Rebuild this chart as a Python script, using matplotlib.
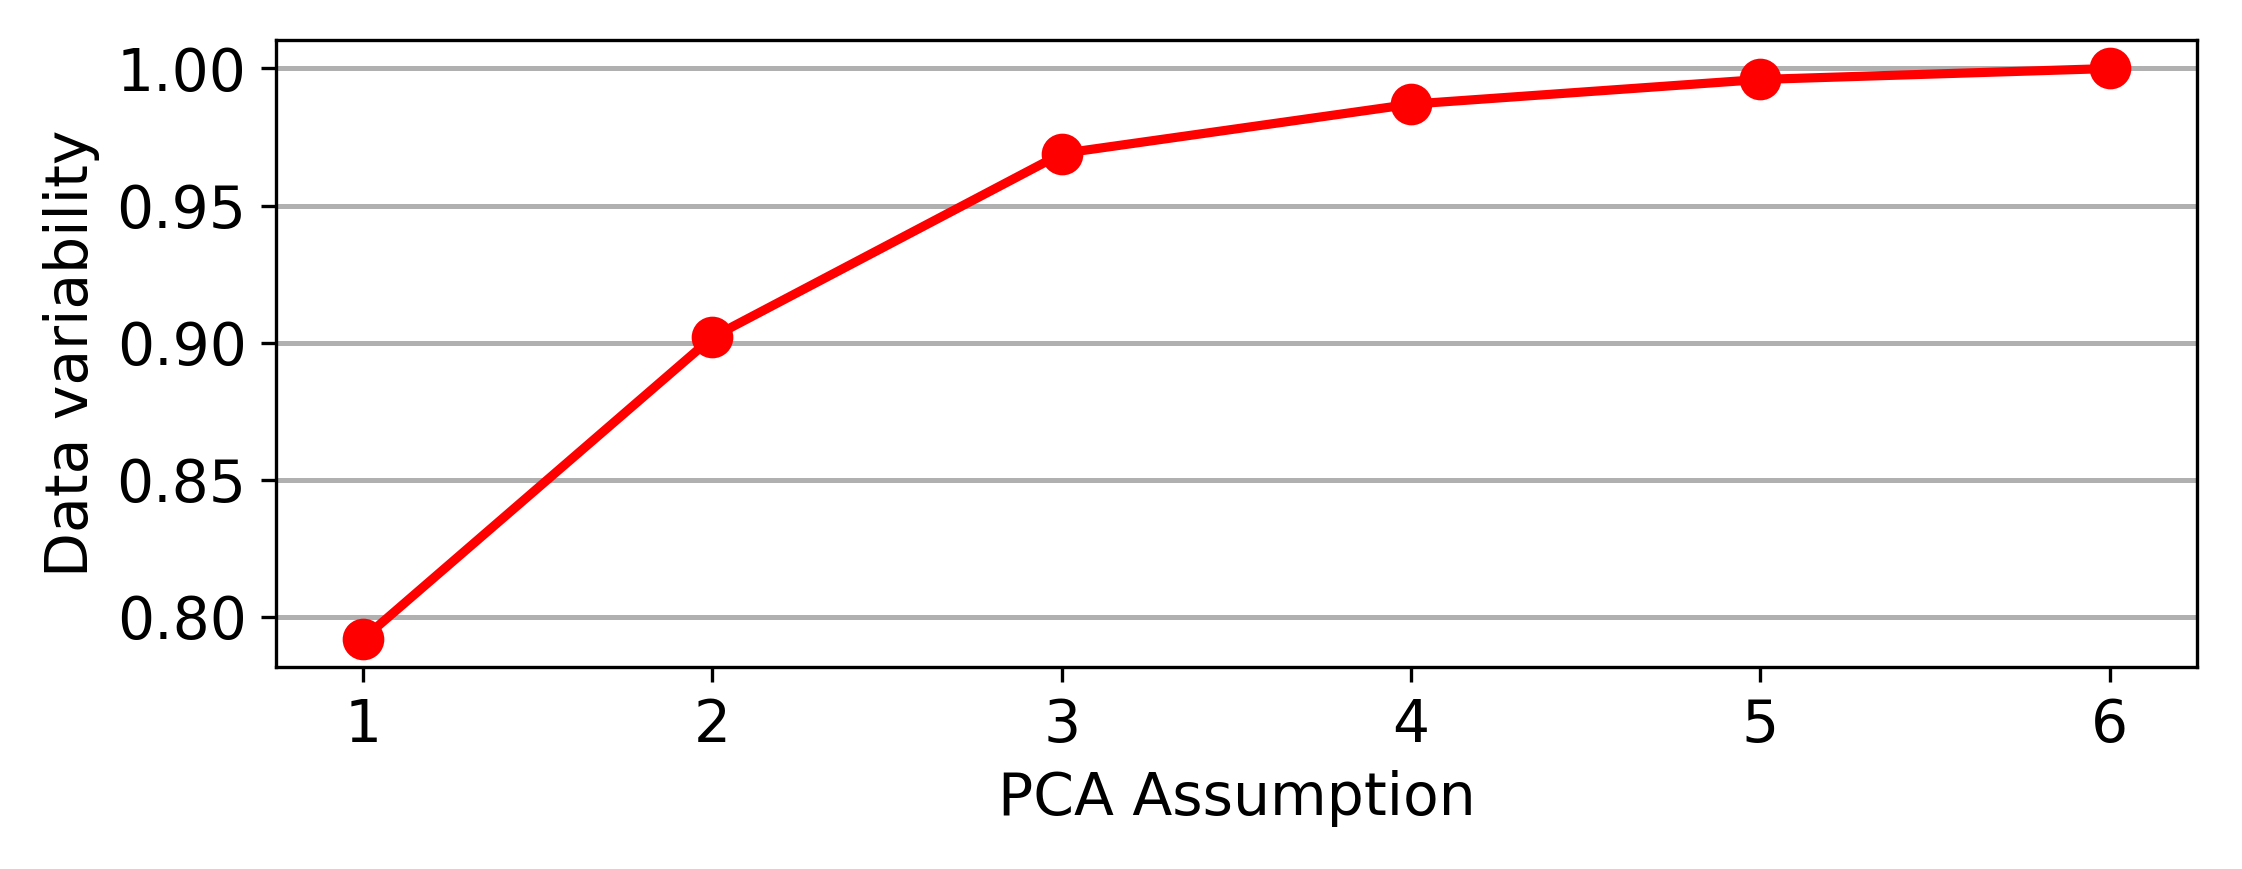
import matplotlib
matplotlib.use("Agg")
import matplotlib.pyplot as plt

components = [1, 2, 3, 4, 5, 6]
variability = [0.792, 0.902, 0.969, 0.987, 0.996, 1.000]

fig = plt.figure(figsize=(2242/300, 869/300), dpi=300)
ax = fig.add_axes([0.123, 0.232, 0.857, 0.722])
ax.plot(components, variability, color='red', linewidth=2.2, marker='o', markersize=9)
ax.grid(axis='y', color='#b0b0b0', linewidth=1.2)
ax.set_axisbelow(True)
ax.set_xlabel('PCA Assumption', fontsize=14)
ax.set_ylabel('Data variability', fontsize=14)
ax.tick_params(labelsize=14)
ax.set_yticks([0.80, 0.85, 0.90, 0.95, 1.00])
fig.savefig('out.png', dpi=300)
